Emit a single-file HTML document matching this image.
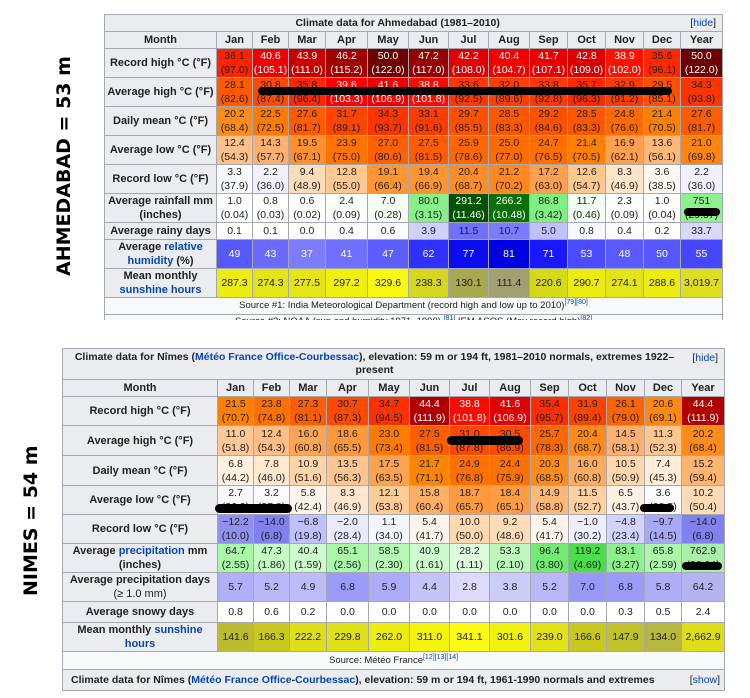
<!DOCTYPE html>
<html><head><meta charset="utf-8"><style>
body{margin:0;width:750px;height:698px;background:#fff;position:relative;overflow:hidden;font-family:"Liberation Sans",Arial,sans-serif}
table{position:absolute;border-collapse:collapse;table-layout:fixed;background:#f8f9fa;font-size:10.5px;color:#202122}
td,th{border:1px solid #a2a9b1;padding:0;text-align:center;line-height:14px;overflow:hidden;white-space:nowrap}
th{background:#eaecf0;font-weight:bold;font-size:11px}
.w{color:#fff}
a{color:#0645ad;text-decoration:none}
.side{position:absolute;font-family:"DejaVu Sans",sans-serif;font-weight:bold;font-size:19px;transform:rotate(-90deg);transform-origin:left top;white-space:nowrap}
.bar{position:absolute;background:#000;border-radius:5px}
sup{font-size:7px;line-height:0}
</style></head><body>
<div class="side" style="left:53px;top:276px">AHMEDABAD = 53 m</div>
<div class="side" style="left:20px;top:596px">NIMES = 54 m</div>

<table style="left:104px;top:14px;width:619px">
<colgroup><col style="width:112px"><col style="width:36px"><col style="width:36px"><col style="width:37px"><col style="width:42px"><col style="width:41px"><col style="width:40px"><col style="width:40px"><col style="width:41px"><col style="width:38px"><col style="width:38px"><col style="width:38px"><col style="width:37px"><col style="width:42px"></colgroup>
<tr style="height:17px"><th colspan="14" style="font-size:10.5px">Climate data for Ahmedabad (1981–2010)<span style="float:right;font-weight:normal;padding-right:6px">[<a>hide</a>]</span></th></tr>
<tr style="height:17px"><th>Month</th><th>Jan</th><th>Feb</th><th>Mar</th><th>Apr</th><th>May</th><th>Jun</th><th>Jul</th><th>Aug</th><th>Sep</th><th>Oct</th><th>Nov</th><th>Dec</th><th>Year</th></tr>
<tr style="height:29px"><th>Record high °C (°F)</th><td style="background:#ff2200">36.1<br>(97.0)</td><td class="w" style="background:#f00000">40.6<br>(105.1)</td><td class="w" style="background:#c80000">43.9<br>(111.0)</td><td class="w" style="background:#a00000">46.2<br>(115.2)</td><td class="w" style="background:#6e0000">50.0<br>(122.0)</td><td class="w" style="background:#950000">47.2<br>(117.0)</td><td class="w" style="background:#e00000">42.2<br>(108.0)</td><td class="w" style="background:#f20000">40.4<br>(104.7)</td><td class="w" style="background:#e80000">41.7<br>(107.1)</td><td class="w" style="background:#d80000">42.8<br>(109.0)</td><td class="w" style="background:#ff1100">38.9<br>(102.0)</td><td style="background:#ff2800">35.6<br>(96.1)</td><td class="w" style="background:#6e0000">50.0<br>(122.0)</td></tr>
<tr style="height:28px"><th>Average high °C (°F)</th><td style="background:#ff5a00">28.1<br>(82.6)</td><td style="background:#ff4a00">30.8<br>(87.4)</td><td style="background:#ff2800">35.8<br>(96.4)</td><td class="w" style="background:#ff0000">39.6<br>(103.3)</td><td class="w" style="background:#ee0000">41.6<br>(106.9)</td><td class="w" style="background:#ff0a00">38.8<br>(101.8)</td><td style="background:#ff3800">33.6<br>(92.5)</td><td style="background:#ff4000">32.0<br>(89.6)</td><td style="background:#ff3800">33.8<br>(92.8)</td><td style="background:#ff2a00">35.7<br>(96.3)</td><td style="background:#ff3c00">32.9<br>(91.2)</td><td style="background:#ff5000">29.5<br>(85.1)</td><td style="background:#ff3400">34.3<br>(93.8)</td></tr>
<tr style="height:28px"><th>Daily mean °C (°F)</th><td style="background:#ff8c1a">20.2<br>(68.4)</td><td style="background:#ff7a00">22.5<br>(72.5)</td><td style="background:#ff5c00">27.6<br>(81.7)</td><td style="background:#ff4400">31.7<br>(89.1)</td><td style="background:#ff3400">34.3<br>(93.7)</td><td style="background:#ff3c00">33.1<br>(91.6)</td><td style="background:#ff5000">29.7<br>(85.5)</td><td style="background:#ff5600">28.5<br>(83.3)</td><td style="background:#ff5200">29.2<br>(84.6)</td><td style="background:#ff5600">28.5<br>(83.3)</td><td style="background:#ff6a00">24.8<br>(76.6)</td><td style="background:#ff8000">21.4<br>(70.5)</td><td style="background:#ff5c00">27.6<br>(81.7)</td></tr>
<tr style="height:29px"><th>Average low °C (°F)</th><td style="background:#ffc08a">12.4<br>(54.3)</td><td style="background:#ffb070">14.3<br>(57.7)</td><td style="background:#ff9030">19.5<br>(67.1)</td><td style="background:#ff7400">23.9<br>(75.0)</td><td style="background:#ff6000">27.0<br>(80.6)</td><td style="background:#ff5e00">27.5<br>(81.5)</td><td style="background:#ff6800">25.9<br>(78.6)</td><td style="background:#ff6c00">25.0<br>(77.0)</td><td style="background:#ff6e00">24.7<br>(76.5)</td><td style="background:#ff8000">21.4<br>(70.5)</td><td style="background:#ffa050">16.9<br>(62.1)</td><td style="background:#ffb878">13.6<br>(56.1)</td><td style="background:#ff8410">21.0<br>(69.8)</td></tr>
<tr style="height:29px"><th>Record low °C (°F)</th><td style="background:#f8f8ff">3.3<br>(37.9)</td><td style="background:#f0f0ff">2.2<br>(36.0)</td><td style="background:#ffdcb8">9.4<br>(48.9)</td><td style="background:#ffc890">12.8<br>(55.0)</td><td style="background:#ff9633">19.1<br>(66.4)</td><td style="background:#ff9430">19.4<br>(66.9)</td><td style="background:#ff8c26">20.4<br>(68.7)</td><td style="background:#ff8820">21.2<br>(70.2)</td><td style="background:#ffa050">17.2<br>(63.0)</td><td style="background:#ffc890">12.6<br>(54.7)</td><td style="background:#ffe4c8">8.3<br>(46.9)</td><td style="background:#fff8f0">3.6<br>(38.5)</td><td style="background:#f0f0ff">2.2<br>(36.0)</td></tr>
<tr style="height:28px"><th>Average rainfall mm<br>(inches)</th><td style="background:#fff">1.0<br>(0.04)</td><td style="background:#fff">0.8<br>(0.03)</td><td style="background:#fff">0.6<br>(0.02)</td><td style="background:#fcfffc">2.4<br>(0.09)</td><td style="background:#f6fff6">7.0<br>(0.28)</td><td style="background:#88f088">80.0<br>(3.15)</td><td class="w" style="background:#005400">291.2<br>(11.46)</td><td class="w" style="background:#0a700a">266.2<br>(10.48)</td><td style="background:#80ee80">86.8<br>(3.42)</td><td style="background:#f0fff0">11.7<br>(0.46)</td><td style="background:#fcfffc">2.3<br>(0.09)</td><td style="background:#fff">1.0<br>(0.04)</td><td style="background:#8ef08e">751<br>(29.57)</td></tr>
<tr style="height:17px"><th>Average rainy days</th><td style="background:#fff">0.1</td><td style="background:#fff">0.1</td><td style="background:#fff">0.0</td><td style="background:#fcfcff">0.4</td><td style="background:#fafaff">0.6</td><td style="background:#d0d0ff">3.9</td><td style="background:#7070ff">11.5</td><td style="background:#7b7bff">10.7</td><td style="background:#c0c0ff">5.0</td><td style="background:#f8f8ff">0.8</td><td style="background:#fcfcff">0.4</td><td style="background:#fff">0.2</td><td style="background:#d8d8f8">33.7</td></tr>
<tr style="height:28px"><th>Average <a>relative<br>humidity</a> (%)</th><td class="w" style="background:#5858ff">49</td><td class="w" style="background:#6a6aff">43</td><td class="w" style="background:#7c7cff">37</td><td class="w" style="background:#7070ff">41</td><td class="w" style="background:#5e5eff">47</td><td class="w" style="background:#3030ff">62</td><td class="w" style="background:#0c0cf0">77</td><td class="w" style="background:#0000e0">81</td><td class="w" style="background:#1818ff">71</td><td class="w" style="background:#4c4cff">53</td><td class="w" style="background:#5a5aff">48</td><td class="w" style="background:#5656ff">50</td><td class="w" style="background:#4646ff">55</td></tr>
<tr style="height:28px"><th>Mean monthly<br><a>sunshine hours</a></th><td style="background:#ecec10">287.3</td><td style="background:#e4e418">274.3</td><td style="background:#e6e616">277.5</td><td style="background:#f0f010">297.2</td><td style="background:#f8f810">329.6</td><td style="background:#d6d620">238.3</td><td style="background:#a8a850">130.1</td><td style="background:#a0a070">111.4</td><td style="background:#d8d81a">220.6</td><td style="background:#ecec10">290.7</td><td style="background:#e4e418">274.1</td><td style="background:#ecec10">288.6</td><td style="background:#dede20">3,019.7</td></tr>
<tr style="height:17px"><td colspan="14" style="font-size:9.5px;background:#f8f9fa">Source #1: India Meteorological Department (record high and low up to 2010)<sup><a>[79]</a><a>[80]</a></sup></td></tr>
<tr style="height:17px"><td colspan="14" style="font-size:9.5px;background:#f8f9fa;vertical-align:top">Source #2: NOAA (sun and humidity 1971–1990) <sup><a>[81]</a></sup> IEM ASOS (May record high)<sup><a>[82]</a></sup></td></tr>
</table>
<div style="position:absolute;left:100px;top:320px;width:640px;height:30px;background:#fff"></div>

<table style="left:62px;top:348px;width:662px">
<colgroup><col style="width:155px"><col style="width:36px"><col style="width:36px"><col style="width:37px"><col style="width:42px"><col style="width:41px"><col style="width:40px"><col style="width:40px"><col style="width:41px"><col style="width:38px"><col style="width:38px"><col style="width:38px"><col style="width:37px"><col style="width:43px"></colgroup>
<tr style="height:31px"><th colspan="14" style="font-size:10.5px;white-space:normal;line-height:13px;position:relative;padding:0 42px 0 4px">Climate data for Nîmes (<a>Météo France Office</a>-<a>Courbessac</a>), elevation: 59 m or 194 ft, 1981–2010 normals, extremes 1922–present<span style="position:absolute;right:6px;top:3px;font-weight:normal">[<a>hide</a>]</span></th></tr>
<tr style="height:17px"><th>Month</th><th>Jan</th><th>Feb</th><th>Mar</th><th>Apr</th><th>May</th><th>Jun</th><th>Jul</th><th>Aug</th><th>Sep</th><th>Oct</th><th>Nov</th><th>Dec</th><th>Year</th></tr>
<tr style="height:29px"><th>Record high °C (°F)</th><td style="background:#ff8000">21.5<br>(70.7)</td><td style="background:#ff7000">23.8<br>(74.8)</td><td style="background:#ff5e00">27.3<br>(81.1)</td><td style="background:#ff4800">30.7<br>(87.3)</td><td style="background:#ff3000">34.7<br>(94.5)</td><td class="w" style="background:#b00000">44.4<br>(111.9)</td><td class="w" style="background:#ff0a00">38.8<br>(101.8)</td><td class="w" style="background:#e00000">41.6<br>(106.9)</td><td style="background:#ff2c00">35.4<br>(95.7)</td><td style="background:#ff4200">31.9<br>(89.4)</td><td style="background:#ff6400">26.1<br>(79.0)</td><td style="background:#ff8810">20.6<br>(69.1)</td><td class="w" style="background:#b00000">44.4<br>(111.9)</td></tr>
<tr style="height:30px"><th>Average high °C (°F)</th><td style="background:#ffc895">11.0<br>(51.8)</td><td style="background:#ffbe85">12.4<br>(54.3)</td><td style="background:#ffa555">16.0<br>(60.8)</td><td style="background:#ff9838">18.6<br>(65.5)</td><td style="background:#ff7a00">23.0<br>(73.4)</td><td style="background:#ff5e00">27.5<br>(81.5)</td><td style="background:#ff4800">31.0<br>(87.8)</td><td style="background:#ff4a00">30.5<br>(86.9)</td><td style="background:#ff6800">25.7<br>(78.3)</td><td style="background:#ff8a18">20.4<br>(68.7)</td><td style="background:#ffb070">14.5<br>(58.1)</td><td style="background:#ffc690">11.3<br>(52.3)</td><td style="background:#ff8c1a">20.2<br>(68.4)</td></tr>
<tr style="height:30px"><th>Daily mean °C (°F)</th><td style="background:#fff0e0">6.8<br>(44.2)</td><td style="background:#ffe8d0">7.8<br>(46.0)</td><td style="background:#ffd4a8">10.9<br>(51.6)</td><td style="background:#ffc490">13.5<br>(56.3)</td><td style="background:#ffa250">17.5<br>(63.5)</td><td style="background:#ff8400">21.7<br>(71.1)</td><td style="background:#ff7000">24.9<br>(76.8)</td><td style="background:#ff7200">24.4<br>(75.9)</td><td style="background:#ff8c1a">20.3<br>(68.5)</td><td style="background:#ffac60">16.0<br>(60.8)</td><td style="background:#ffd6ac">10.5<br>(50.9)</td><td style="background:#ffecd8">7.4<br>(45.3)</td><td style="background:#ffb470">15.2<br>(59.4)</td></tr>
<tr style="height:29px"><th>Average low °C (°F)</th><td style="background:#f8f8ff">2.7<br>(36.9)</td><td style="background:#fafaff">3.2<br>(37.8)</td><td style="background:#fff4ea">5.8<br>(42.4)</td><td style="background:#ffe6cc">8.3<br>(46.9)</td><td style="background:#ffcc98">12.1<br>(53.8)</td><td style="background:#ffb066">15.8<br>(60.4)</td><td style="background:#ff9a40">18.7<br>(65.7)</td><td style="background:#ff9c44">18.4<br>(65.1)</td><td style="background:#ffb878">14.9<br>(58.8)</td><td style="background:#ffd0a0">11.5<br>(52.7)</td><td style="background:#fff0e4">6.5<br>(43.7)</td><td style="background:#fcfcff">3.6<br>(38.5)</td><td style="background:#ffdab4">10.2<br>(50.4)</td></tr>
<tr style="height:29px"><th>Record low °C (°F)</th><td style="background:#9090f0">−12.2<br>(10.0)</td><td style="background:#8080ee">−14.0<br>(6.8)</td><td style="background:#c0c0ff">−6.8<br>(19.8)</td><td style="background:#e8e8ff">−2.0<br>(28.4)</td><td style="background:#f4f4ff">1.1<br>(34.0)</td><td style="background:#fff4ea">5.4<br>(41.7)</td><td style="background:#ffd8b0">10.0<br>(50.0)</td><td style="background:#ffdcb8">9.2<br>(48.6)</td><td style="background:#fff4ea">5.4<br>(41.7)</td><td style="background:#eeeeff">−1.0<br>(30.2)</td><td style="background:#d2d2ff">−4.8<br>(23.4)</td><td style="background:#a8a8f8">−9.7<br>(14.5)</td><td style="background:#8080ee">−14.0<br>(6.8)</td></tr>
<tr style="height:29px"><th>Average <a>precipitation</a> mm<br>(inches)</th><td style="background:#a8f8a8">64.7<br>(2.55)</td><td style="background:#c4fcc4">47.3<br>(1.86)</td><td style="background:#ccfccc">40.4<br>(1.59)</td><td style="background:#a8f8a8">65.1<br>(2.56)</td><td style="background:#b4f8b4">58.5<br>(2.30)</td><td style="background:#ccfccc">40.9<br>(1.61)</td><td style="background:#dcfcdc">28.2<br>(1.11)</td><td style="background:#bcf8bc">53.3<br>(2.10)</td><td style="background:#70ec70">96.4<br>(3.80)</td><td style="background:#48e048">119.2<br>(4.69)</td><td style="background:#8cf08c">83.1<br>(3.27)</td><td style="background:#a8f8a8">65.8<br>(2.59)</td><td style="background:#a8f0a8">762.9<br>(30.04)</td></tr>
<tr style="height:29px"><th>Average precipitation days<br><span style="font-weight:normal">(≥ 1.0 mm)</span></th><td style="background:#b0b0f8">5.7</td><td style="background:#b8b8f8">5.2</td><td style="background:#bcbcf8">4.9</td><td style="background:#9a9af8">6.8</td><td style="background:#acacf8">5.9</td><td style="background:#c4c4f8">4.4</td><td style="background:#dcdcfa">2.8</td><td style="background:#ccccf8">3.8</td><td style="background:#b8b8f8">5.2</td><td style="background:#9898f8">7.0</td><td style="background:#9a9af8">6.8</td><td style="background:#aeaef8">5.8</td><td style="background:#b4b4f0">64.2</td></tr>
<tr style="height:21px"><th>Average snowy days</th><td style="background:#fff">0.8</td><td style="background:#fff">0.6</td><td style="background:#fff">0.2</td><td style="background:#fff">0.0</td><td style="background:#fff">0.0</td><td style="background:#fff">0.0</td><td style="background:#fff">0.0</td><td style="background:#fff">0.0</td><td style="background:#fff">0.0</td><td style="background:#fff">0.0</td><td style="background:#fff">0.3</td><td style="background:#fff">0.5</td><td style="background:#fff">2.4</td></tr>
<tr style="height:29px"><th>Mean monthly <a>sunshine<br>hours</a></th><td style="background:#bcbc30">141.6</td><td style="background:#c8c820">166.3</td><td style="background:#dede18">222.2</td><td style="background:#e0e018">229.8</td><td style="background:#ecec10">262.0</td><td style="background:#f4f410">311.0</td><td style="background:#fafa14">341.1</td><td style="background:#f2f210">301.6</td><td style="background:#e2e214">239.0</td><td style="background:#c8c820">166.6</td><td style="background:#c0c028">147.9</td><td style="background:#b8b840">134.0</td><td style="background:#dede18">2,662.9</td></tr>
<tr style="height:18px"><td colspan="14" style="font-size:9.5px;background:#f8f9fa">Source: Météo France<sup><a>[12]</a><a>[13]</a><a>[14]</a></sup></td></tr>
<tr style="height:21px"><th colspan="14" style="font-size:10.5px;text-align:left;padding-left:8px">Climate data for Nîmes (<a>Météo France Office</a>-<a>Courbessac</a>), elevation: 59 m or 194 ft, 1961-1990 normals and extremes<span style="float:right;font-weight:normal;padding-right:4px">[<a>show</a>]</span></th></tr>
</table>

<div class="bar" style="left:258px;top:87px;width:414px;height:8px"></div>
<div class="bar" style="left:684px;top:208px;width:36px;height:8px"></div>
<div class="bar" style="left:447px;top:436px;width:76px;height:9px"></div>
<div class="bar" style="left:215px;top:504px;width:77px;height:9px"></div>
<div class="bar" style="left:640px;top:504px;width:34px;height:8px"></div>
<div class="bar" style="left:682px;top:562px;width:40px;height:8px"></div>
</body></html>
